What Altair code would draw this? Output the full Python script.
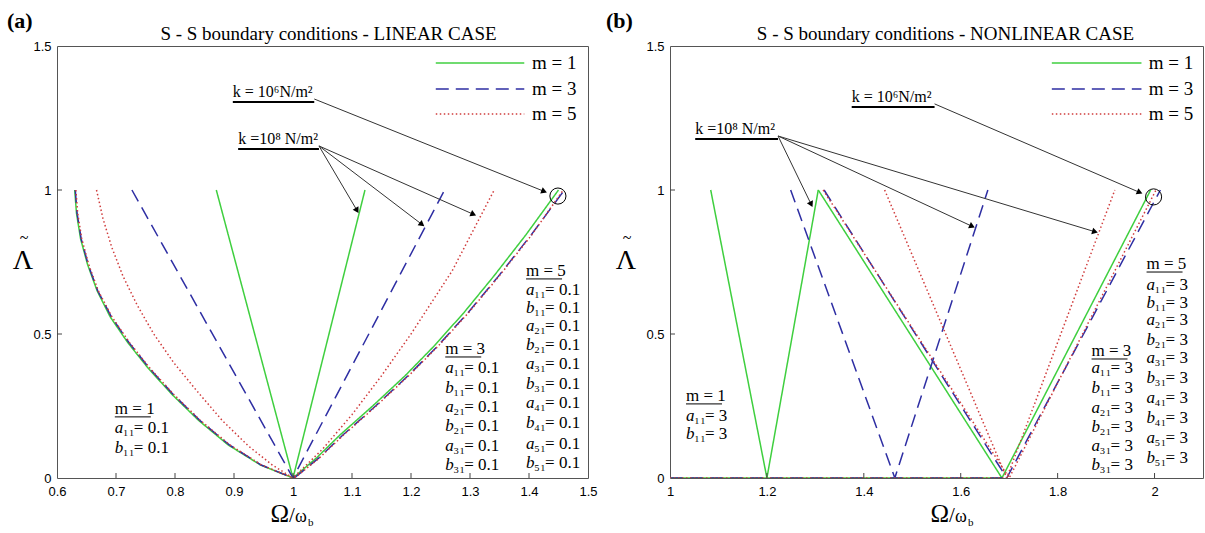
import math
import altair as alt
import pandas as pd

GREEN = "#3fcf3f"
BLUE = "#2e2ea3"
RED = "#d03c3c"
SERIF = "Liberation Serif"
SANS = "Liberation Sans"
M_LABELS = ["m = 1", "m = 3", "m = 5"]
COL = {"m = 1": GREEN, "m = 3": BLUE, "m = 5": RED}
DASH = {"m = 1": [1, 0], "m = 3": [13, 7], "m = 5": [1.5, 2.5]}

# ---------------- (a) LINEAR CASE ----------------
A_K6L_Y = [1.00, 0.92, 0.83, 0.74, 0.65, 0.56, 0.47, 0.38, 0.29, 0.20, 0.115, 0.045, 0.0]
A_K6L_X_M1 = [0.630, 0.633, 0.640, 0.652, 0.668, 0.690, 0.720, 0.755, 0.795, 0.840, 0.890, 0.945, 1.000]
A_K6L_X_M3 = [0.631, 0.634, 0.641, 0.653, 0.669, 0.692, 0.722, 0.757, 0.797, 0.842, 0.892, 0.946, 1.000]
A_K6L_X_M5 = [0.632, 0.635, 0.642, 0.654, 0.670, 0.693, 0.723, 0.758, 0.798, 0.843, 0.893, 0.947, 1.000]

A_K6R_Y = [0.0, 0.07, 0.15, 0.25, 0.355, 0.46, 0.575, 0.70, 0.845, 1.00]
A_K6R_X_M1 = [1.000, 1.040, 1.080, 1.135, 1.190, 1.240, 1.290, 1.340, 1.395, 1.450]
A_K6R_X_M3 = [1.002, 1.044, 1.085, 1.140, 1.195, 1.246, 1.297, 1.348, 1.404, 1.460]
A_K6R_X_M5 = [1.003, 1.045, 1.086, 1.141, 1.196, 1.247, 1.298, 1.349, 1.405, 1.458]

A_K8_M1_X = [0.870, 1.000, 1.122]
A_K8_M1_Y = [1.0, 0.0, 1.0]
A_K8_M3_X = [0.727, 1.000, 1.257]
A_K8_M3_Y = [1.0, 0.0, 1.0]
A_K8_M5_X = [0.667, 0.678, 0.693, 0.712, 0.736, 0.764, 0.798, 0.838, 0.880, 0.925, 0.965, 1.000,
             1.050, 1.100, 1.150, 1.200, 1.270, 1.341]
A_K8_M5_Y = [1.0, 0.90, 0.80, 0.70, 0.60, 0.50, 0.40, 0.30, 0.20, 0.11, 0.045, 0.0,
             0.10, 0.22, 0.355, 0.50, 0.72, 1.0]

# ---------------- (b) NONLINEAR CASE ----------------
B_K8_M1_X = [1.084, 1.200, 1.306]
B_K8_M3_X = [1.249, 1.464, 1.656]
B_K8_M5_X = [1.443, 1.695, 1.918]
B_K8_Y = [1.0, 0.0, 1.0]

B_K6_BASE_Y = [0.0, 0.0]
B_K6_BASE_X_M1 = [1.0, 1.685]
B_K6_BASE_X_M3 = [1.0, 1.695]
B_K6_BASE_X_M5 = [1.0, 1.700]
B_K6_V_Y = [1.0, 0.0, 1.0]
B_K6_V_X_M1 = [1.306, 1.685, 1.992]
B_K6_V_X_M3 = [1.318, 1.695, 2.012]
B_K6_V_X_M5 = [1.316, 1.700, 2.003]

X_TICKS_A = [0.6, 0.7, 0.8, 0.9, 1.0, 1.1, 1.2, 1.3, 1.4, 1.5]
X_TICKS_B = [1.0, 1.2, 1.4, 1.6, 1.8, 2.0]
Y_TICKS = [0, 0.5, 1, 1.5]

PARAMS = {
    "m = 1": [("a", "₁₁"), ("b", "₁₁")],
    "m = 3": [("a", "₁₁"), ("b", "₁₁"), ("a", "₂₁"), ("b", "₂₁"), ("a", "₃₁"), ("b", "₃₁")],
    "m = 5": [("a", "₁₁"), ("b", "₁₁"), ("a", "₂₁"), ("b", "₂₁"), ("a", "₃₁"), ("b", "₃₁"),
              ("a", "₄₁"), ("b", "₄₁"), ("a", "₅₁"), ("b", "₅₁")],
}
VALUE_A = "= 0.1"
VALUE_B = "= 3"

K6_LABEL = "k = 10⁶N/m²"
K8_LABEL = "k =10⁸ N/m²"

W_A, W_B, H = 531, 533, 432


def build_lines(curves):
    rows = []
    for m, cid, xs, ys in curves:
        for i, (x, y) in enumerate(zip(xs, ys)):
            rows.append({"m": m, "curve": cid, "i": i, "x": x, "y": y})
    return pd.DataFrame(rows)


def panel(letter, title, xdom, xticks, W, curves, lay):
    sx = W / (xdom[1] - xdom[0])
    sy = H / 1.5
    xs = alt.Scale(domain=xdom, nice=False, zero=False)
    ys = alt.Scale(domain=[0, 1.5], nice=False, zero=False)
    xax = alt.Axis(values=xticks, format="~g", labelFont=SANS, labelFontSize=13,
                   labelColor="black", labelFlush=False, labelPadding=7, grid=False,
                   domain=False, ticks=False, title=None)
    yax = alt.Axis(values=Y_TICKS, format="~g", labelFont=SANS, labelFontSize=13,
                   labelColor="black", labelFlush=False, labelPadding=6, grid=False,
                   domain=False, ticks=False, title=None)

    def X(f):
        return alt.X(f, type="quantitative", scale=xs, axis=xax)

    def Y(f):
        return alt.Y(f, type="quantitative", scale=ys, axis=yax)

    layers = []
    df = build_lines(curves)
    for m in M_LABELS:
        sub = df[df.m == m]
        layers.append(alt.Chart(sub).mark_line(color=COL[m], strokeDash=DASH[m],
                                               strokeWidth=1.5, clip=True)
                      .encode(x=X("x"), y=Y("y"), detail="curve:N", order="i:Q"))

    # inward ticks
    tdf = pd.DataFrame({"t": [t for t in xticks if xdom[0] < t < xdom[1]]})
    layers.append(alt.Chart(tdf).mark_rule(color="#444", strokeWidth=1)
                  .encode(x=X("t"), y=alt.value(H), y2=alt.value(H - 5)))
    ydf = pd.DataFrame({"t": [0.5, 1.0]})
    layers.append(alt.Chart(ydf).mark_rule(color="#444", strokeWidth=1)
                  .encode(y=Y("t"), x=alt.value(0), x2=alt.value(5)))

    # legend
    for m, ly in zip(M_LABELS, lay["leg_y"]):
        ldf = pd.DataFrame([{"x1": lay["leg_x1"], "x2": lay["leg_x2"], "y": ly, "tx": lay["leg_tx"], "t": m}])
        layers.append(alt.Chart(ldf).mark_rule(color=COL[m], strokeDash=DASH[m], strokeWidth=1.5)
                      .encode(x=X("x1"), x2="x2", y=Y("y")))
        layers.append(alt.Chart(ldf).mark_text(font=SERIF, fontSize=19, align="left",
                                               baseline="middle", color="black")
                      .encode(x=X("tx"), y=Y("y"), text="t:N"))

    # k labels + underlines
    kdf = pd.DataFrame([
        {"t": K6_LABEL, "x": lay["k6"][0], "x2": lay["k6"][1], "y": lay["k6"][2]},
        {"t": K8_LABEL, "x": lay["k8"][0], "x2": lay["k8"][1], "y": lay["k8"][2]},
    ])
    kdf["ul"] = kdf["y"] - 8 / sy
    layers.append(alt.Chart(kdf).mark_text(font=SERIF, fontSize=16, align="left",
                                           baseline="alphabetic", color="black", dy=3)
                  .encode(x=X("x"), y=Y("y"), text="t:N"))
    layers.append(alt.Chart(kdf).mark_rule(color="black", strokeWidth=2)
                  .encode(x=X("x"), x2="x2", y=Y("ul")))

    # arrows
    arows = []
    for (x1, y1), (x2, y2) in lay["arrows"]:
        vx = (x2 - x1) * sx
        vy = -(y2 - y1) * sy
        L = math.hypot(vx, vy)
        ux, uy = vx / L, vy / L
        ang = math.degrees(math.atan2(vx, -vy)) % 360
        arows.append({"x1": x1, "y1": y1, "x2": x2 - ux * 4 / sx, "y2": y2 + uy * 4 / sy,
                      "hx": x2 - ux * 4 / sx, "hy": y2 + uy * 4 / sy, "ang": ang})
    adf = pd.DataFrame(arows)
    layers.append(alt.Chart(adf).mark_rule(color="#333", strokeWidth=1)
                  .encode(x=X("x1"), y=Y("y1"), x2="x2", y2="y2"))
    layers.append(alt.Chart(adf).mark_point(shape="triangle-up", filled=True, color="black",
                                            size=45, opacity=1)
                  .encode(x=X("hx"), y=Y("hy"), angle=alt.Angle("ang:Q", scale=None)))
    cdf = pd.DataFrame([{"x": lay["circle"][0], "y": lay["circle"][1]}])
    layers.append(alt.Chart(cdf).mark_point(shape="circle", filled=False, color="black",
                                            size=260, strokeWidth=1, opacity=1)
                  .encode(x=X("x"), y=Y("y")))

    # parameter blocks
    hrows, vrows = [], []
    for m in M_LABELS:
        bx, bys = lay["params"][m]
        hrows.append({"x": bx, "y": bys[0], "t": m, "x2": bx + 36 / sx, "ul": bys[0] - 8 / sy})
        for (name, sub), yy in zip(PARAMS[m], bys[1:]):
            vrows.append({"x": bx, "y": yy, "t": name, "s": sub, "v": lay["value"]})
    hdf = pd.DataFrame(hrows)
    vdf = pd.DataFrame(vrows)
    layers.append(alt.Chart(hdf).mark_text(font=SERIF, fontSize=17, align="left",
                                           baseline="middle", color="black")
                  .encode(x=X("x"), y=Y("y"), text="t:N"))
    layers.append(alt.Chart(hdf).mark_rule(color="black", strokeWidth=1)
                  .encode(x=X("x"), x2="x2", y=Y("ul")))
    layers.append(alt.Chart(vdf).mark_text(font=SERIF, fontSize=17, fontStyle="italic",
                                           align="left", baseline="middle", color="black")
                  .encode(x=X("x"), y=Y("y"), text="t:N"))
    layers.append(alt.Chart(vdf).mark_text(font=SERIF, fontSize=17, align="left",
                                           baseline="middle", color="black", dx=8)
                  .encode(x=X("x"), y=Y("y"), text="s:N"))
    layers.append(alt.Chart(vdf).mark_text(font=SERIF, fontSize=17, align="left",
                                           baseline="middle", color="black", dx=19)
                  .encode(x=X("x"), y=Y("y"), text="v:N"))

    # titles and labels (pixel positions relative to plot area)
    one = pd.DataFrame([{"a": 1}])

    def txt(s, px, py, size, **kw):
        return alt.Chart(one).mark_text(text=s, font=SERIF, fontSize=size, color="black",
                                        baseline="middle", **kw).encode(
            x=alt.value(px), y=alt.value(py))

    layers.append(txt(letter, lay["letter_x"], -25, 22, fontWeight="bold", align="left"))
    layers.append(txt(title, W / 2 + lay["title_dx"], -12, 19, align="center"))
    yt = lay["ytitle_x"]
    layers.append(txt("Λ", yt, H / 2 - 1, 28, align="center"))
    layers.append(txt("~", yt + 1, H / 2 - 24, 16, align="center"))
    x0 = lay["xtitle_x"]
    layers.append(txt("Ω", x0, H + 36, 25, align="right"))
    layers.append(txt("/", x0, H + 38, 21, align="left"))
    layers.append(txt("ω", x0 + 6, H + 39, 18, align="left"))
    layers.append(txt("b", x0 + 19, H + 45, 11, align="left"))

    return alt.layer(*layers).properties(width=W, height=H)


curves_a = [
    ("m = 1", "k6L", A_K6L_X_M1, A_K6L_Y), ("m = 1", "k6R", A_K6R_X_M1, A_K6R_Y),
    ("m = 1", "k8", A_K8_M1_X, A_K8_M1_Y),
    ("m = 3", "k6L", A_K6L_X_M3, A_K6L_Y), ("m = 3", "k6R", A_K6R_X_M3, A_K6R_Y),
    ("m = 3", "k8", A_K8_M3_X, A_K8_M3_Y),
    ("m = 5", "k6L", A_K6L_X_M5, A_K6L_Y), ("m = 5", "k6R", A_K6R_X_M5, A_K6R_Y),
    ("m = 5", "k8", A_K8_M5_X, A_K8_M5_Y),
]
curves_b = [
    ("m = 1", "k6B", B_K6_BASE_X_M1, B_K6_BASE_Y), ("m = 1", "k6V", B_K6_V_X_M1, B_K6_V_Y),
    ("m = 1", "k8", B_K8_M1_X, B_K8_Y),
    ("m = 3", "k6B", B_K6_BASE_X_M3, B_K6_BASE_Y), ("m = 3", "k6V", B_K6_V_X_M3, B_K6_V_Y),
    ("m = 3", "k8", B_K8_M3_X, B_K8_Y),
    ("m = 5", "k6B", B_K6_BASE_X_M5, B_K6_BASE_Y), ("m = 5", "k6V", B_K6_V_X_M5, B_K6_V_Y),
    ("m = 5", "k8", B_K8_M5_X, B_K8_Y),
]

lay_a = {
    "leg_x1": 1.242, "leg_x2": 1.392, "leg_tx": 1.405, "leg_y": [1.441, 1.351, 1.264],
    "k6": (0.898, 1.036, 1.333), "k8": (0.907, 1.044, 1.170),
    "arrows": [((1.036, 1.316), (1.432, 0.990)),
               ((1.044, 1.153), (1.112, 0.917)),
               ((1.044, 1.153), (1.224, 0.872)),
               ((1.044, 1.153), (1.312, 0.910))],
    "circle": (1.449, 0.979),
    "params": {
        "m = 1": (0.698, [0.240, 0.174, 0.104]),
        "m = 3": (1.258, [0.448, 0.382, 0.3125, 0.2465, 0.180, 0.111, 0.045]),
        "m = 5": (1.395, [0.719, 0.653, 0.590, 0.528, 0.462, 0.396, 0.326, 0.260, 0.191, 0.118, 0.052]),
    },
    "value": VALUE_A,
    "letter_x": -50, "title_dx": 6, "ytitle_x": -34, "xtitle_x": 232,
}
lay_b = {
    "leg_x1": 1.788, "leg_x2": 1.973, "leg_tx": 1.988, "leg_y": [1.441, 1.351, 1.264],
    "k6": (1.375, 1.546, 1.316), "k8": (1.052, 1.223, 1.205),
    "arrows": [((1.546, 1.299), (1.977, 0.986)),
               ((1.223, 1.1875), (1.295, 0.9375)),
               ((1.223, 1.1875), (1.631, 0.868)),
               ((1.223, 1.1875), (1.885, 0.851))],
    "circle": (1.998, 0.976),
    "params": {
        "m = 1": (1.033, [0.285, 0.215, 0.153]),
        "m = 3": (1.870, [0.441, 0.382, 0.3125, 0.243, 0.177, 0.111, 0.045]),
        "m = 5": (1.9835, [0.743, 0.670, 0.608, 0.549, 0.479, 0.417, 0.347, 0.278, 0.208, 0.139, 0.069]),
    },
    "value": VALUE_B,
    "letter_x": -64, "title_dx": 9, "ytitle_x": -44, "xtitle_x": 279,
}

left = panel("(a)", "S - S boundary conditions - LINEAR CASE", [0.6, 1.5], X_TICKS_A, W_A, curves_a, lay_a)
right = panel("(b)", "S - S boundary conditions - NONLINEAR CASE", [1.0, 2.1], X_TICKS_B, W_B, curves_b, lay_b)

chart = alt.hconcat(left, right, spacing=82, bounds="flush").properties(
    padding={"left": 6, "top": 9, "right": 0, "bottom": 0}
).configure_view(stroke="#555", strokeWidth=1)

chart.save("out.html", embed_options={"renderer": "svg", "actions": False})
